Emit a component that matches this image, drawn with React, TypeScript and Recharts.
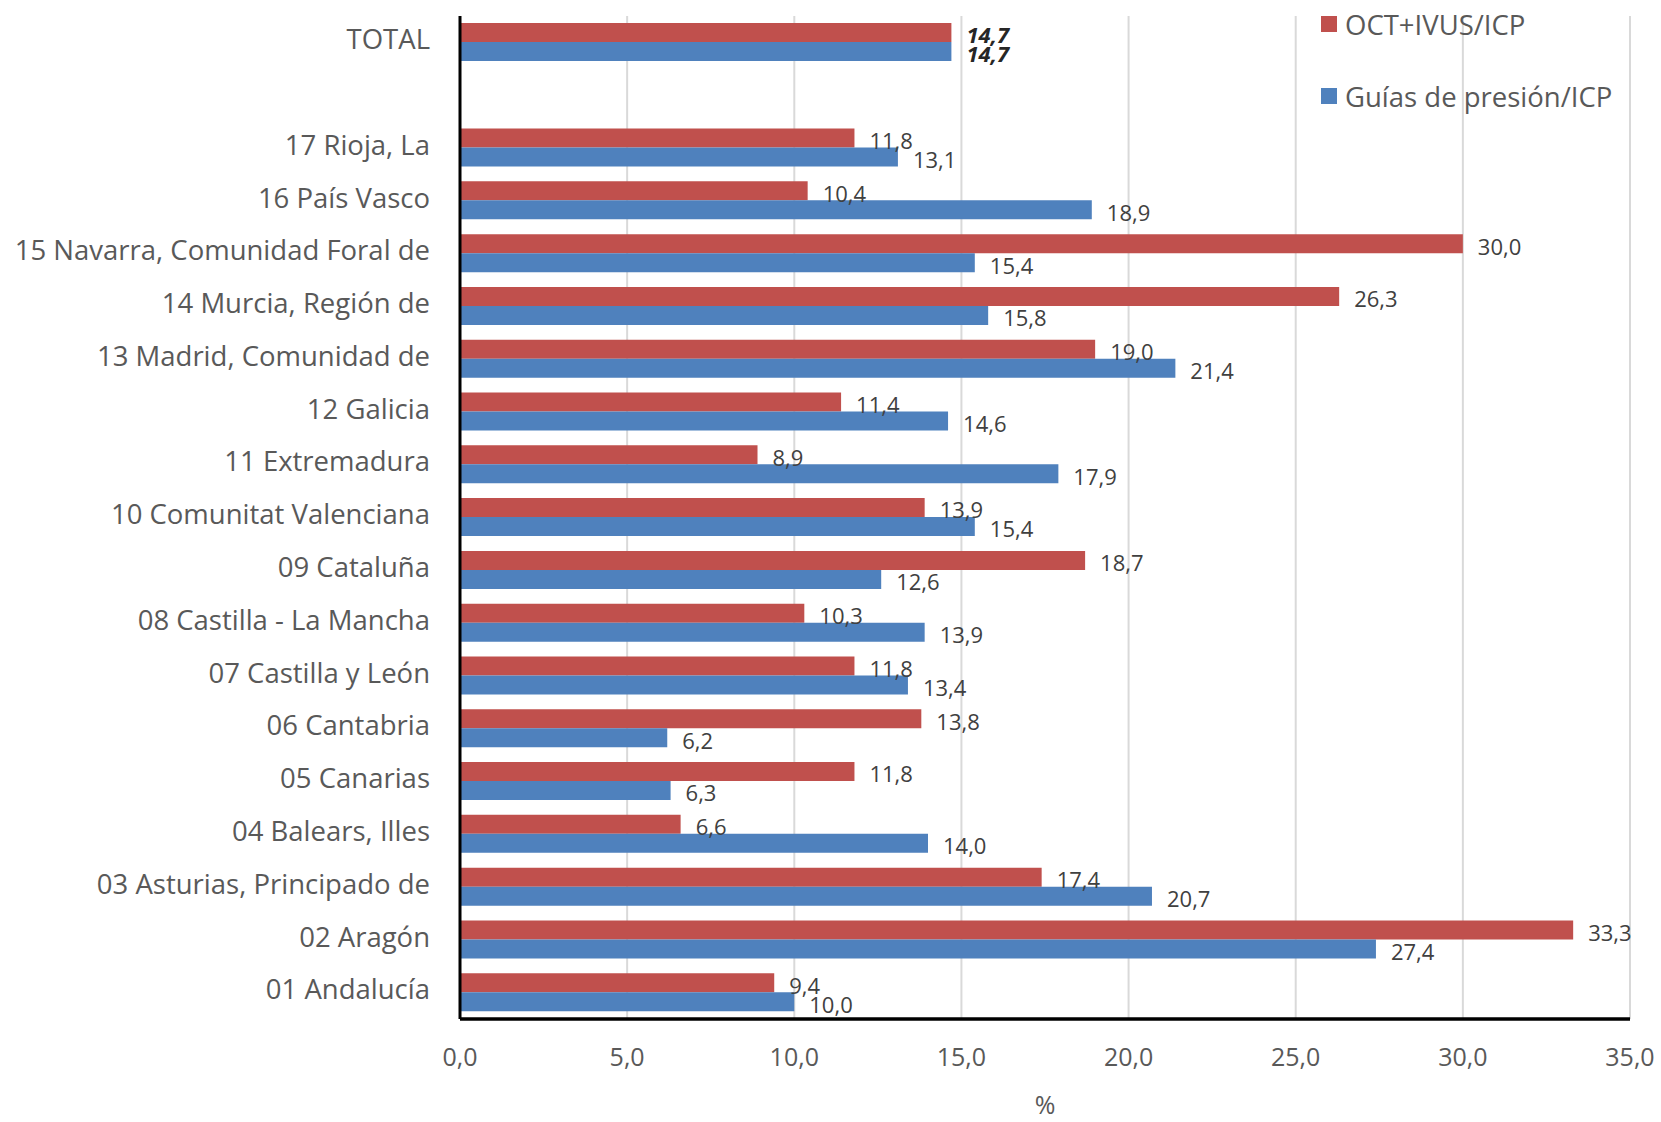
import { BarChart, Bar, XAxis, YAxis, CartesianGrid, Legend, LabelList } from 'recharts';

const regions = [
  'TOTAL',
  '',
  '17 Rioja, La',
  '16 País Vasco',
  '15 Navarra, Comunidad Foral de',
  '14 Murcia, Región de',
  '13 Madrid, Comunidad de',
  '12 Galicia',
  '11 Extremadura',
  '10 Comunitat Valenciana',
  '09 Cataluña',
  '08 Castilla - La Mancha',
  '07 Castilla y León',
  '06 Cantabria',
  '05 Canarias',
  '04 Balears, Illes',
  '03 Asturias, Principado de',
  '02 Aragón',
  '01 Andalucía',
];

const octIvus = [14.7, null, 11.8, 10.4, 30.0, 26.3, 19.0, 11.4, 8.9, 13.9, 18.7, 10.3, 11.8, 13.8, 11.8, 6.6, 17.4, 33.3, 9.4];
const guias = [14.7, null, 13.1, 18.9, 15.4, 15.8, 21.4, 14.6, 17.9, 15.4, 12.6, 13.9, 13.4, 6.2, 6.3, 14.0, 20.7, 27.4, 10.0];

const xTicks = [0, 5, 10, 15, 20, 25, 30, 35];

const RED = '#C0504D';
const BLUE = '#4F81BD';
const TEXT = '#595959';
const FONT = "'Open Sans', sans-serif";

const data = regions.map((name, i) => ({ name, oct: octIvus[i], guias: guias[i] }));

const fmt = (v: number) => v.toFixed(1).replace('.', ',');

function ValueLabel(props: any) {
  const { x, y, width, height, value, index } = props;
  if (value == null) return null;
  const isTotal = index === 0;
  return (
    <text
      x={Number(x) + Number(width) + 15}
      y={Number(y) + Number(height) / 2 + 5}
      dominantBaseline="middle"
      fontSize={22}
      fontFamily={FONT}
      fontWeight={isTotal ? 700 : 400}
      fontStyle={isTotal ? 'italic' : 'normal'}
      fill={isTotal ? '#262626' : '#404040'}
    >
      {fmt(Number(value))}
    </text>
  );
}

function LegendBox() {
  const items = [
    { label: 'OCT+IVUS/ICP', color: RED },
    { label: 'Guías de presión/ICP', color: BLUE },
  ];
  return (
    <div style={{ fontFamily: FONT, fontSize: 27.5, color: TEXT }}>
      {items.map((it) => (
        <div key={it.label} style={{ display: 'flex', alignItems: 'center', height: 36, marginBottom: 36 }}>
          <span style={{ display: 'inline-block', width: 16, height: 16, background: it.color, marginRight: 8 }} />
          <span>{it.label}</span>
        </div>
      ))}
    </div>
  );
}

export default function App() {
  return (
    <div style={{ position: 'absolute', left: 0, top: 0, width: 1661, height: 1122, background: '#fff' }}>
      <BarChart
        width={1661}
        height={1122}
        data={data}
        layout="vertical"
        margin={{ top: 16, right: 31, bottom: 0, left: 0 }}
        barGap={0}
      >
        <CartesianGrid horizontal={false} stroke="#D9D9D9" strokeWidth={2} />
        <XAxis
          type="number"
          domain={[0, 35]}
          ticks={xTicks}
          tickFormatter={fmt}
          axisLine={{ stroke: '#000', strokeWidth: 3.5 }}
          tickLine={false}
          tickSize={0}
          tickMargin={29}
          height={103}
          tick={{ fill: TEXT, fontSize: 25, fontFamily: FONT }}
          label={{ value: '%', position: 'insideBottom', offset: 8, fill: TEXT, fontSize: 25, fontFamily: FONT }}
        />
        <YAxis
          type="category"
          dataKey="name"
          width={460}
          interval={0}
          axisLine={{ stroke: '#000', strokeWidth: 3 }}
          tickLine={false}
          tickSize={0}
          tickMargin={30}
          tick={{ fill: TEXT, fontSize: 27.5, fontFamily: FONT, dy: -3 }}
        />
        <Legend
          layout="vertical"
          align="center"
          verticalAlign="middle"
          wrapperStyle={{ top: 6, left: 1321, width: 340, height: 130 }}
          content={() => <LegendBox />}
        />
        <Bar dataKey="oct" name="OCT+IVUS/ICP" fill={RED} barSize={19} isAnimationActive={false}>
          <LabelList dataKey="oct" content={ValueLabel} />
        </Bar>
        <Bar dataKey="guias" name="Guías de presión/ICP" fill={BLUE} barSize={19} isAnimationActive={false}>
          <LabelList dataKey="guias" content={ValueLabel} />
        </Bar>
      </BarChart>
    </div>
  );
}
